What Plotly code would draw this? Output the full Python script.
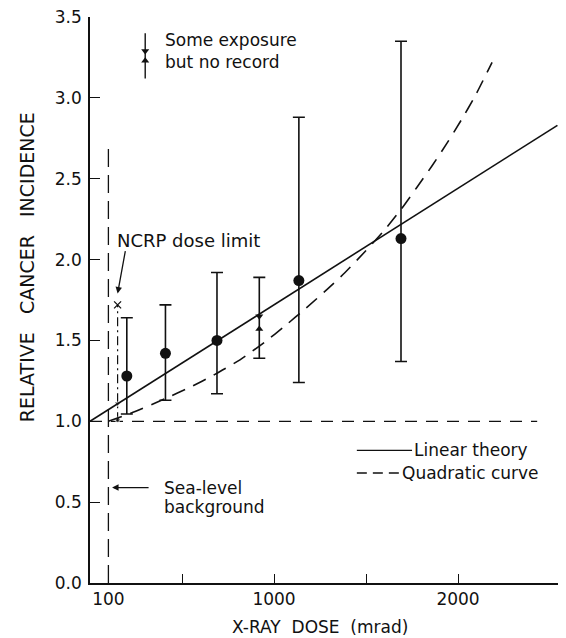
import plotly.graph_objects as go

# ---- data ----
dose = [200, 410, 690, 1135, 1690]          # mrad, filled circles
rel_incidence = [1.28, 1.42, 1.50, 1.87, 2.13]
ci_upper = [1.64, 1.72, 1.92, 2.88, 3.35]
ci_lower = [1.045, 1.13, 1.17, 1.24, 1.37]

norec_dose = [920]                           # "some exposure but no record" point
norec_down = [1.65]
norec_up = [1.57]
norec_upper = [1.89]
norec_lower = [1.39]

linear_x = [0, 2540]
linear_y = [1.0, 2.83]

quad_x = [100, 245, 408, 543, 679, 815, 950, 1060, 1174, 1293, 1386, 1495,
          1598, 1690, 1772, 1859, 1940, 2016, 2092, 2185]
quad_y = [1.00, 1.06, 1.14, 1.21, 1.29, 1.38, 1.49, 1.59, 1.70, 1.82, 1.92,
          2.05, 2.18, 2.31, 2.44, 2.58, 2.72, 2.86, 3.01, 3.22]

baseline_x = [0, 2430]
baseline_y = [1.0, 1.0]

sea_level_x = [100, 100]
sea_level_y = [0.0, 2.69]

ncrp_x = [150, 150]
ncrp_y = [1.0, 1.72]
ncrp_marks_y = [1.11, 1.01]

legend_sym_x = [300, 300]
legend_sym_y = [3.40, 3.12]

x_tickvals = [100, 500, 1000, 1500, 2000]
x_ticktext = ["100", "", "1000", "", "2000"]
y_tickvals = [0.0, 0.5, 1.0, 1.5, 2.0, 2.5, 3.0, 3.5]
y_ticktext = ["0.0", "0.5", "1.0", "1.5", "2.0", "2.5", "3.0", "3.5"]

FONT = "DejaVu Sans"
INK = "#111111"
FS = 17

fig = go.Figure()

# reference lines
fig.add_trace(go.Scatter(x=baseline_x, y=baseline_y, mode="lines",
                         line=dict(color=INK, width=1.3, dash="12px,9px"), hoverinfo="skip"))
fig.add_trace(go.Scatter(x=sea_level_x, y=sea_level_y, mode="lines",
                         line=dict(color=INK, width=1.3, dash="18px,8px"), hoverinfo="skip"))
fig.add_trace(go.Scatter(x=ncrp_x, y=ncrp_y, mode="lines",
                         line=dict(color=INK, width=1.2, dash="9px,4px,2px,4px"), hoverinfo="skip"))
fig.add_trace(go.Scatter(x=[ncrp_x[0]], y=[ncrp_y[1]], mode="markers",
                         marker=dict(symbol="x-thin", size=7, line=dict(color=INK, width=1.3)),
                         hoverinfo="skip"))
fig.add_trace(go.Scatter(x=[ncrp_x[0], ncrp_x[0]], y=ncrp_marks_y, mode="markers",
                         marker=dict(symbol=["triangle-down", "circle"], size=[6, 5], color=INK),
                         hoverinfo="skip"))

# theory curves
fig.add_trace(go.Scatter(x=linear_x, y=linear_y, mode="lines",
                         line=dict(color=INK, width=1.6), hoverinfo="skip"))
fig.add_trace(go.Scatter(x=quad_x, y=quad_y, mode="lines", line_shape="spline",
                         line=dict(color=INK, width=1.6, dash="14px,9px", smoothing=0.6),
                         hoverinfo="skip"))

# data points with error bars
fig.add_trace(go.Scatter(
    x=dose, y=rel_incidence, mode="markers",
    marker=dict(symbol="circle", size=11, color=INK),
    error_y=dict(type="data", symmetric=False,
                 array=[u - v for u, v in zip(ci_upper, rel_incidence)],
                 arrayminus=[v - l for v, l in zip(rel_incidence, ci_lower)],
                 color=INK, thickness=1.6, width=6)))

mid = [(u + l) / 2 for u, l in zip(norec_upper, norec_lower)]
fig.add_trace(go.Scatter(
    x=norec_dose, y=mid, mode="markers", marker=dict(size=1, color="rgba(0,0,0,0)"),
    error_y=dict(type="data", symmetric=False,
                 array=[u - m for u, m in zip(norec_upper, mid)],
                 arrayminus=[m - l for m, l in zip(mid, norec_lower)],
                 color=INK, thickness=1.6, width=6)))
fig.add_trace(go.Scatter(x=norec_dose + norec_dose, y=norec_down + norec_up, mode="markers",
                         marker=dict(symbol=["triangle-down", "triangle-up"], size=7, color=INK),
                         hoverinfo="skip"))

# symbol key at top
fig.add_trace(go.Scatter(x=legend_sym_x, y=legend_sym_y, mode="lines",
                         line=dict(color=INK, width=1.4), hoverinfo="skip"))
fig.add_trace(go.Scatter(x=legend_sym_x, y=[3.29, 3.23], mode="markers",
                         marker=dict(symbol=["triangle-down", "triangle-up"], size=7, color=INK),
                         hoverinfo="skip"))

# line key
fig.add_trace(go.Scatter(x=[1450, 1750], y=[0.82, 0.82], mode="lines",
                         line=dict(color=INK, width=1.4), hoverinfo="skip"))
fig.add_trace(go.Scatter(x=[1450, 1685], y=[0.68, 0.68], mode="lines",
                         line=dict(color=INK, width=1.4, dash="10px,6px"), hoverinfo="skip"))

tf = dict(family=FONT, size=FS, color=INK)
ann = [
    dict(x=397, y=3.36, text="Some exposure", xanchor="left", yanchor="middle", showarrow=False, font=tf),
    dict(x=397, y=3.22, text="but no record", xanchor="left", yanchor="middle", showarrow=False, font=tf),
    dict(x=138, y=2.12, text="NCRP dose limit", xanchor="left", yanchor="middle", showarrow=False,
         font=dict(family=FONT, size=18, color=INK)),
    dict(x=150, y=1.79, ax=8, ay=-44, text="", showarrow=True, arrowhead=2, arrowsize=1,
         arrowwidth=1.3, arrowcolor=INK),
    dict(x=391, y=0.59, text="Sea-level", xanchor="left", yanchor="middle", showarrow=False, font=tf),
    dict(x=391, y=0.47, text="background", xanchor="left", yanchor="middle", showarrow=False, font=tf),
    dict(x=120, y=0.59, ax=38, ay=0, text="", showarrow=True, arrowhead=2, arrowsize=1,
         arrowwidth=1.3, arrowcolor=INK),
    dict(x=1752, y=0.82, text="Linear theory", xanchor="left", yanchor="middle", showarrow=False, font=tf),
    dict(x=1687, y=0.68, text="Quadratic curve", xanchor="left", yanchor="middle", showarrow=False, font=tf),
    dict(xref="paper", yref="paper", x=0, y=0.558, xshift=-63, text="RELATIVE   CANCER   INCIDENCE",
         textangle=-90, showarrow=False, xanchor="center", yanchor="middle",
         font=dict(family=FONT, size=19, color=INK)),
    dict(xref="paper", yref="paper", x=0.489, y=0, yshift=-44, text="X-RAY  DOSE  (mrad)",
         showarrow=False, xanchor="center", yanchor="middle",
         font=dict(family=FONT, size=FS, color=INK)),
]

# the page body adds an 8 px offset, so the figure is shifted/sized to compensate
fig.update_layout(
    width=558, height=630,
    margin=dict(l=82, r=6, t=9, b=55, autoexpand=False),
    paper_bgcolor="white", plot_bgcolor="white",
    showlegend=False,
    annotations=ann,
    font=dict(family=FONT, size=FS, color=INK),
    xaxis=dict(range=[0, 2554], showgrid=False, zeroline=False, showline=True,
               linecolor=INK, linewidth=1.5, ticks="inside", ticklen=9, tickwidth=1.3,
               tickcolor=INK, tickvals=x_tickvals, ticktext=x_ticktext, automargin=False,
               tickfont=dict(family=FONT, size=FS, color=INK), ticklabelstandoff=0),
    yaxis=dict(range=[0, 3.5], showgrid=False, zeroline=False, showline=True,
               linecolor=INK, linewidth=1.5, ticks="inside", ticklen=10, tickwidth=1.3,
               tickcolor=INK, tickvals=y_tickvals, ticktext=y_ticktext, automargin=False,
               tickfont=dict(family=FONT, size=FS, color=INK), ticklabelstandoff=3,
               ticklabeloverflow="allow"),
)

fig.write_html("out.html")
